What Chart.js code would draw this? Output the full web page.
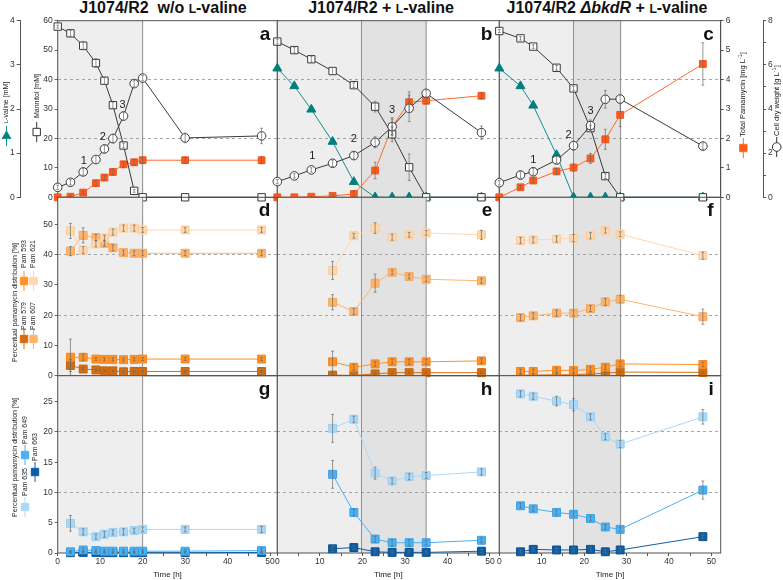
<!DOCTYPE html>
<html>
<head>
<meta charset="utf-8">
<title>Pamamycin production J1074/R2</title>
<script src="https://cdn.jsdelivr.net/npm/chart.js@4.4.1/dist/chart.umd.min.js"></script>
<style>
  body { margin: 0; background: #fff; }
  #figure { position: relative; width: 783px; height: 580px; overflow: hidden; font-family: "Liberation Sans", Arial, sans-serif; }
  #figure canvas { position: absolute; left: 0; top: 0; }
  .title { position: absolute; top: 0; font-size: 16px; line-height: 16px; font-weight: bold; color: #111; white-space: nowrap; transform: translateX(-50%); }
  .sc { font-size: 12px; }
</style>
</head>
<body>
<div id="figure">
  <div class="title" style="left:163px">J1074/R2&nbsp; w/o <span class="sc">L</span>-valine</div>
  <div class="title" style="left:381px">J1074/R2 + <span class="sc">L</span>-valine</div>
  <div class="title" style="left:607px">J1074/R2 <i>ΔbkdR</i> + <span class="sc">L</span>-valine</div>
</div>
<script>
// sampling times [h]
const timeTopA = [0, 3, 6, 9, 11, 13, 15.5, 18, 20, 30, 48];
const timeTopB = [0, 4, 8, 13, 18, 23, 27, 31, 35, 48];
const timeTopC = [0, 5, 8, 13.5, 17.5, 21.5, 25, 28.5, 48];
const timePamA = [3, 6, 9, 11, 13, 15.5, 18, 20, 30, 48];
const timePamB = [13, 18, 23, 27, 31, 35, 48];
const timePamC = [5, 8, 13.5, 17.5, 21.5, 25, 28.5, 48];

// end of the shaded culture phases [h]
const phaseEndA = [20];
const phaseEndB = [19.8, 35];
const phaseEndC = [17.5, 28.6];

// a: w/o L-valine
const mannitolA = [58.0, 55.7, 51.5, 45.6, 39.6, 31.3, 17.6, 2.2, 0, 0, 0];
const mannitolErrA = [0.5, 1.0, 1.4, 1.5, 1.2, 1.0, 0.8, 0.5, 0, 0, 0];
const cdwA = [0.45, 0.68, 1.15, 1.71, 2.19, 2.66, 3.68, 5.15, 5.40, 2.69, 2.78];
const cdwErrA = [0.1, 0.12, 0.15, 0.18, 0.18, 0.2, 0.2, 0.15, 0.12, 0.22, 0.35];
const pamTotalA = [0, 0.02, 0.16, 0.48, 0.67, 0.86, 1.12, 1.19, 1.26, 1.26, 1.26];
const pamTotalErrA = [0, 0.03, 0.05, 0.08, 0.08, 0.1, 0.1, 0.1, 0.1, 0.1, 0.12];

// b: + L-valine
const mannitolB = [52.9, 50.0, 46.9, 42.9, 38.1, 30.8, 21.4, 10.2, 0, 0];
const mannitolErrB = [0.8, 1.0, 1.0, 1.2, 0.8, 1.8, 2.5, 4.5, 0, 0];
const valineB = [2.92, 2.52, 1.99, 1.26, 0.35, 0, 0, 0, 0, 0];
const cdwB = [0.71, 0.97, 1.24, 1.54, 1.89, 2.49, 3.2, 4.03, 4.71, 2.93];
const cdwErrB = [0.1, 0.1, 0.1, 0.15, 0.15, 0.25, 0.35, 0.6, 0.15, 0.3];
const pamTotalB = [0, 0, 0.02, 0.05, 0.11, 0.91, 2.4, 3.23, 3.28, 3.45];
const pamTotalErrB = [0, 0, 0.02, 0.04, 0.1, 0.28, 0.3, 0.35, 0.1, 0.1];

// c: bkdR deletion + L-valine
const mannitolC = [56.5, 54.0, 51.2, 44.0, 37.0, 23.5, 7.2, 0, 0];
const mannitolErrC = [0.5, 0.6, 0.6, 0.8, 0.8, 1.0, 0.8, 0, 0];
const valineC = [2.92, 2.52, 2.08, 0.96, 0, 0, 0, 0, 0];
const cdwC = [0.66, 1.01, 1.16, 1.69, 2.34, 3.25, 4.44, 4.45, 2.32];
const cdwErrC = [0.1, 0.15, 0.15, 0.15, 0.2, 0.25, 0.4, 0.2, 0.15];
const pamTotalC = [0, 0.34, 0.57, 0.88, 1.01, 1.32, 1.97, 2.80, 4.53];
const pamTotalErrC = [0, 0.06, 0.08, 0.1, 0.12, 0.17, 0.34, 0.4, 0.72];

// d-f: pamamycin distribution [%], Pam 579 / 593 / 607 / 621
const pam579D = [3.4, 2.2, 1.9, 1.6, 1.6, 1.3, 1.4, 1.4, 1.4, 1.4];
const pam593D = [6.1, 6.1, 5.5, 5.4, 5.4, 5.3, 5.4, 5.5, 5.5, 5.5];
const pam607D = [41.2, 46.4, 45.7, 43.8, 42.3, 40.7, 40.5, 40.5, 40.5, 40.5];
const pam621D = [47.9, 41.5, 43.6, 45.5, 47.5, 48.8, 48.8, 48.2, 48.2, 48.2];
const pam579ErrD = [2.0, 0.4, 0.3, 0.3, 0.3, 0.3, 0.3, 0.3, 0.3, 0.3];
const pam593ErrD = [6.0, 1.0, 0.5, 0.5, 0.5, 0.5, 0.5, 0.5, 0.5, 0.5];
const pam607ErrD = [1.5, 2.5, 1.0, 1.0, 1.0, 0.8, 0.8, 0.8, 0.8, 0.8];
const pam621ErrD = [2.5, 1.2, 1.0, 1.0, 1.0, 1.0, 1.0, 0.8, 0.8, 0.8];

const pam579E = [0.2, 0.1, 0.6, 1.0, 1.0, 1.0, 1.0];
const pam593E = [4.6, 2.8, 3.9, 4.6, 4.6, 4.6, 4.9];
const pam607E = [24.3, 21.2, 30.6, 34.2, 32.8, 31.9, 31.4];
const pam621E = [34.8, 46.3, 48.8, 45.8, 46.6, 47.2, 46.6];
const pam579ErrE = [0.3, 0.3, 0.3, 0.3, 0.3, 0.3, 0.3];
const pam593ErrE = [3.5, 1.0, 0.8, 0.8, 0.8, 0.8, 0.8];
const pam607ErrE = [2.5, 1.0, 3.0, 0.8, 0.8, 0.8, 0.8];
const pam621ErrE = [3.0, 0.8, 1.8, 1.0, 0.8, 0.8, 1.5];

const pam579F = [0.2, 0.2, 0.3, 0.3, 0.6, 0.8, 1.2, 1.1];
const pam593F = [1.4, 1.4, 1.8, 1.7, 2.1, 2.8, 3.9, 3.7];
const pam607F = [19.2, 19.8, 20.7, 20.7, 22.2, 24.4, 25.3, 19.5];
const pam621F = [44.7, 44.9, 45.2, 45.5, 46.3, 48.0, 46.8, 39.7];
const pam579ErrF = [0.3, 0.3, 0.3, 0.3, 0.3, 0.3, 0.3, 0.3];
const pam593ErrF = [0.8, 0.8, 0.8, 0.8, 0.8, 0.8, 0.8, 0.8];
const pam607ErrF = [1.0, 1.0, 1.0, 1.0, 1.0, 1.2, 1.2, 2.5];
const pam621ErrF = [1.0, 1.0, 1.0, 1.2, 1.0, 0.8, 0.8, 1.2];

// g-i: pamamycin distribution [%], Pam 635 / 649 / 663
const pam635G = [4.9, 3.5, 2.7, 3.1, 3.4, 3.5, 3.7, 3.9, 3.9, 3.9];
const pam649G = [0.2, 0.5, 0.4, 0.3, 0.3, 0.3, 0.3, 0.3, 0.3, 0.4];
const pam663G = [0.05, 0.1, 0.1, 0.05, 0.05, 0.05, 0.05, 0.05, 0.05, 0.1];
const pam635ErrG = [1.3, 0.5, 0.4, 0.5, 0.4, 0.5, 0.4, 0.4, 0.4, 0.5];
const pam649ErrG = [0.2, 0.3, 0.3, 0.3, 0.3, 0.3, 0.3, 0.3, 0.3, 0.4];
const pam663ErrG = [0.2, 0.2, 0.2, 0.2, 0.2, 0.2, 0.2, 0.2, 0.2, 0.2];

const pam635H = [20.6, 22.1, 13.2, 11.9, 12.6, 12.8, 13.4];
const pam649H = [13.0, 6.7, 2.3, 1.7, 1.7, 1.7, 2.1];
const pam663H = [0.7, 0.9, 0.2, 0.1, 0.1, 0.1, 0.3];
const pam635ErrH = [2.3, 0.5, 1.0, 0.5, 0.5, 0.5, 0.5];
const pam649ErrH = [2.3, 0.5, 0.5, 0.5, 0.5, 0.4, 0.4];
const pam663ErrH = [0.5, 0.3, 0.3, 0.3, 0.3, 0.2, 0.3];

const pam635I = [26.3, 25.9, 25.1, 24.5, 22.5, 19.2, 18.0, 22.5];
const pam649I = [7.8, 7.3, 6.7, 6.4, 5.7, 4.3, 3.9, 10.4];
const pam663I = [0.2, 0.6, 0.5, 0.5, 0.6, 0.2, 0.5, 2.7];
const pam635ErrI = [0.5, 0.5, 0.8, 1.0, 0.5, 0.5, 0.6, 1.2];
const pam649ErrI = [0.4, 0.4, 0.4, 0.4, 0.4, 0.4, 0.4, 1.5];
const pam663ErrI = [0.3, 0.3, 0.3, 0.3, 0.3, 0.3, 0.3, 0.3];

// growth stage labels placed at cell dry weight points
const stageLabels = ['1', '2', '3'];
const stageIndexA = [3, 5, 6];
const stageIndexB = [2, 4, 6];
const stageIndexC = [2, 4, 5];

// ---- layout ----
const W = 783, H = 580;
const COL_LEFT = [57.7, 277.3, 499.3];
const COL_RIGHT = [277.3, 499.3, 720.7];
const ROW_TOP = [20.7, 197.3, 375.7];
const ROW_BOTTOM = [197.3, 375.7, 553];
const TIME_MAX = [51.7, 52.2, 52.2];
const FONT = '"Liberation Sans", Arial, sans-serif';

Chart.defaults.font.family = FONT;
Chart.defaults.color = '#333';

const pts = (xs, ys) => xs.map((x, i) => ({ x: x, y: ys[i] }));

function line(xs, ys, errs, axis, look) {
    return Object.assign({
        data: pts(xs, ys),
        errorBars: errs,
        yAxisID: axis,
        borderWidth: 1,
        tension: 0,
        fill: false,
        clip: false,
        pointBorderWidth: 1
    }, look);
}

const lookMannitol = { borderColor: '#3a3a3a', pointStyle: 'rect', pointRadius: 5.2, pointBackgroundColor: '#ffffff', pointBorderColor: '#3a3a3a' };
const lookCdw = { borderColor: '#3a3a3a', pointStyle: 'circle', pointRadius: 4.3, pointBackgroundColor: '#ffffff', pointBorderColor: '#3a3a3a' };
const lookValine = { borderColor: '#14908c', pointStyle: 'triangle', pointRadius: 5.2, pointBackgroundColor: '#00807c', pointBorderColor: '#00807c' };
const lookPamTotal = { borderColor: '#ff6a2b', pointStyle: 'rect', pointRadius: 4.8, pointBackgroundColor: '#ff5a1a', pointBorderColor: '#ee561e' };

const pamColors = {
    p579: ['#d36d12', '#c4630d'],
    p593: ['#ff9126', '#f5851a'],
    p607: ['#ffb46a', '#f7a75a'],
    p621: ['#ffd8ad', '#fccb98'],
    p635: ['#aad9f8', '#98cff2'],
    p649: ['#4bb1f2', '#3aa2e6'],
    p663: ['#0e5ea6', '#0b5192']
};

function lookPam(key) {
    const c = pamColors[key];
    return { borderColor: c[0], pointStyle: 'rect', pointRadius: 5.6, pointBackgroundColor: c[0], pointBorderColor: c[1] };
}

function buildScales(col, row) {
    const tickFont = { size: 8.5 };
    const bottom = row === 2;
    const prim = [
        { max: 60, step: 10, dash: [20, 40], width: 37 },
        { max: 59, step: 10, dash: [20, 40], width: 57.7 },
        { max: 29.3, step: 5, dash: [10, 20], width: 57.7 }
    ][row];

    const scales = {
        x: {
            type: 'linear', min: 0, max: TIME_MAX[col], display: bottom,
            ticks: {
                stepSize: 5, includeBounds: false, autoSkip: false, maxRotation: 0, font: tickFont, padding: 1,
                callback: v => (v % 10 === 0 ? v : '')
            },
            grid: { drawOnChartArea: false, tickLength: 3, tickColor: '#555' },
            border: { display: false },
            title: { display: true, text: 'Time [h]', font: { size: 8 }, color: '#222', padding: { top: 1, bottom: 0 } },
            afterFit: s => { if (bottom) s.height = 27; }
        },
        y: {
            type: 'linear', position: 'left', weight: 0, min: 0, max: prim.max,
            ticks: { display: col === 0, stepSize: prim.step, includeBounds: false, font: tickFont, padding: 2 },
            grid: {
                drawTicks: col === 0, tickLength: 3, tickColor: '#555', lineWidth: 0.9,
                color: c => (prim.dash.includes(c.tick.value) ? '#9b9b9b' : 'rgba(0,0,0,0)')
            },
            border: { display: false, dash: [3, 3] },
            afterFit: s => { s.width = col === 0 ? prim.width : 0; }
        }
    };

    if (row === 0) {
        scales.yVal = {
            type: 'linear', position: 'left', weight: 10, min: 0, max: 4, display: col === 0,
            ticks: { stepSize: 1, font: tickFont, padding: 2 },
            grid: { drawOnChartArea: false, tickLength: 4, tickColor: '#555' },
            border: { display: true, color: '#555', width: 1 },
            afterFit: s => { if (col === 0) s.width = 20.7; }
        };
        scales.yPam = {
            type: 'linear', position: 'right', weight: 0, min: 0, max: 6, display: col === 2,
            ticks: { stepSize: 1, font: tickFont, padding: 2 },
            grid: { drawOnChartArea: false, tickLength: 3, tickColor: '#555' },
            border: { display: true, color: '#555', width: 1 },
            afterFit: s => { if (col === 2) s.width = 42.3; }
        };
        scales.yCdw = {
            type: 'linear', position: 'right', weight: 10, min: 0, max: 8, display: col === 2,
            ticks: { stepSize: 1, font: tickFont, padding: 2, callback: v => (v % 2 === 0 ? v : '') },
            grid: { drawOnChartArea: false, tickLength: 3, tickColor: '#555' },
            border: { display: true, color: '#555', width: 1 },
            afterFit: s => { if (col === 2) s.width = 20; }
        };
    }
    return scales;
}

// ---- drawing helpers ----
function drawUp(ctx, x, y, parts) {
    ctx.save();
    ctx.translate(x, y);
    ctx.rotate(-Math.PI / 2);
    ctx.textBaseline = 'middle';
    ctx.textAlign = 'left';
    ctx.fillStyle = '#222';
    let cx = 0;
    parts.forEach(p => {
        ctx.font = (p.italic ? 'italic ' : '') + p.size + 'px ' + FONT;
        ctx.fillText(p.text, cx, p.dy || 0);
        cx += ctx.measureText(p.text).width;
    });
    ctx.restore();
}

function drawKey(ctx, x, y, shape, fill, stroke) {
    ctx.save();
    ctx.strokeStyle = stroke;
    ctx.fillStyle = fill;
    ctx.lineWidth = 1;
    ctx.beginPath();
    ctx.moveTo(x, y - 10);
    ctx.lineTo(x, y + 10);
    ctx.stroke();
    ctx.beginPath();
    if (shape === 'rect') {
        ctx.rect(x - 3.7, y - 3.7, 7.4, 7.4);
    } else if (shape === 'circle') {
        ctx.arc(x, y, 4.3, 0, Math.PI * 2);
    } else {
        ctx.moveTo(x, y - 5);
        ctx.lineTo(x + 4.4, y + 2.6);
        ctx.lineTo(x - 4.4, y + 2.6);
        ctx.closePath();
    }
    ctx.fill();
    ctx.stroke();
    ctx.restore();
}

function plainText(text, size) { return { text: text, size: size }; }

const decorations = {
    a: ctx => {
        drawUp(ctx, 6.5, 123, [{ text: 'L', size: 5.6 }, plainText('-valine [mM]', 7)]);
        drawKey(ctx, 6.5, 136, 'triangle', '#00807c', '#14908c');
        drawUp(ctx, 36.7, 118, [plainText('Mannitol [mM]', 7)]);
        drawKey(ctx, 36.7, 132, 'rect', '#ffffff', '#333333');
    },
    c: ctx => {
        drawUp(ctx, 743.3, 137, [plainText('Total Pamamycin [mg L', 7.5), { text: '-1', size: 5.5, dy: -2.5 }, plainText(']', 7.5)]);
        drawKey(ctx, 743.3, 148, 'rect', '#ff5a1a', '#ff6a2b');
        drawUp(ctx, 776.7, 136, [plainText('Cell dry weight [g L', 7.5), { text: '-1', size: 5.5, dy: -2.5 }, plainText(']', 7.5)]);
        drawKey(ctx, 776.7, 147, 'circle', '#ffffff', '#333333');
    },
    d: ctx => {
        drawUp(ctx, 15, 362, [plainText('Percentual pamamycin distribution [%]', 7)]);
        drawKey(ctx, 24, 281, 'rect', pamColors.p593[0], pamColors.p593[0]);
        drawUp(ctx, 24, 268, [plainText('Pam 593', 7)]);
        drawKey(ctx, 33.5, 281, 'rect', pamColors.p621[0], pamColors.p621[0]);
        drawUp(ctx, 33.5, 268, [plainText('Pam 621', 7)]);
        drawKey(ctx, 24, 339, 'rect', pamColors.p579[0], pamColors.p579[0]);
        drawUp(ctx, 24, 330, [plainText('Pam 579', 7)]);
        drawKey(ctx, 33.5, 339, 'rect', pamColors.p607[0], pamColors.p607[0]);
        drawUp(ctx, 33.5, 330, [plainText('Pam 607', 7)]);
    },
    g: ctx => {
        drawUp(ctx, 15, 517, [plainText('Percentual pamamycin distribution [%]', 7)]);
        drawKey(ctx, 25, 455, 'rect', pamColors.p649[0], pamColors.p649[0]);
        drawUp(ctx, 25, 444, [plainText('Pam 649', 7)]);
        drawKey(ctx, 25, 507, 'rect', pamColors.p635[0], pamColors.p635[0]);
        drawUp(ctx, 25, 496, [plainText('Pam 635', 7)]);
        drawKey(ctx, 35, 472, 'rect', pamColors.p663[0], pamColors.p663[0]);
        drawUp(ctx, 35, 461, [plainText('Pam 663', 7)]);
    }
};

function panelPlugin(info) {
    return {
        id: 'panel_' + info.letter,
        beforeDraw: function (chart) {
            const ctx = chart.ctx, a = chart.chartArea, x = chart.scales.x;
            ctx.save();
            let start = 0;
            info.phases.forEach(function (end, k) {
                const x0 = x.getPixelForValue(start), x1 = x.getPixelForValue(end);
                ctx.fillStyle = k === 0 ? '#eeeeee' : '#e2e2e2';
                ctx.fillRect(x0, a.top, x1 - x0, a.bottom - a.top);
                start = end;
            });
            ctx.restore();
        },
        beforeDatasetsDraw: function (chart) {
            const ctx = chart.ctx, a = chart.chartArea, x = chart.scales.x;
            ctx.save();
            ctx.strokeStyle = '#8f8f8f';
            ctx.lineWidth = 1;
            info.phases.forEach(function (t) {
                const px = x.getPixelForValue(t);
                ctx.beginPath();
                ctx.moveTo(px, a.top);
                ctx.lineTo(px, a.bottom);
                ctx.stroke();
            });
            ctx.strokeStyle = '#505050';
            ctx.strokeRect(a.left, a.top, a.right - a.left, a.bottom - a.top);
            ctx.restore();
        },
        afterDatasetsDraw: function (chart) {
            const ctx = chart.ctx, a = chart.chartArea;
            ctx.save();
            ctx.strokeStyle = '#6a6a6a';
            ctx.lineWidth = 0.7;
            chart.data.datasets.forEach(function (ds, i) {
                if (!ds.errorBars) return;
                const meta = chart.getDatasetMeta(i);
                const ys = chart.scales[ds.yAxisID];
                meta.data.forEach(function (pt, j) {
                    const e = ds.errorBars[j];
                    if (!e) return;
                    const v = ds.data[j].y;
                    const y1 = ys.getPixelForValue(v + e);
                    const y2 = ys.getPixelForValue(Math.max(v - e, 0));
                    ctx.beginPath();
                    ctx.moveTo(pt.x, y1);
                    ctx.lineTo(pt.x, y2);
                    ctx.moveTo(pt.x - 1.4, y1);
                    ctx.lineTo(pt.x + 1.4, y1);
                    ctx.moveTo(pt.x - 1.4, y2);
                    ctx.lineTo(pt.x + 1.4, y2);
                    ctx.stroke();
                });
            });

            if (info.stages) {
                const meta = chart.getDatasetMeta(0);
                ctx.fillStyle = '#222';
                ctx.font = '11px ' + FONT;
                ctx.textAlign = 'center';
                ctx.textBaseline = 'middle';
                info.stages.forEach(function (idx, k) {
                    const pt = meta.data[idx];
                    ctx.fillText(stageLabels[k], pt.x + info.stageOffsets[k][0], pt.y + info.stageOffsets[k][1]);
                });
            }

            ctx.fillStyle = '#111';
            ctx.font = 'bold 19px ' + FONT;
            ctx.textAlign = 'right';
            ctx.textBaseline = 'alphabetic';
            ctx.fillText(info.letter, a.right - 7, a.top + 19);
            ctx.restore();
        },
        afterDraw: function (chart) {
            if (decorations[info.letter]) {
                decorations[info.letter](chart.ctx);
            }
        }
    };
}

const panels = [
    { col: 0, row: 0, letter: 'a', phases: phaseEndA, stages: stageIndexA,
      stageOffsets: [[-12, 1], [-10, -2], [-1, -11]],
      datasets: [
          line(timeTopA, cdwA, cdwErrA, 'yCdw', lookCdw),
          line(timeTopA, mannitolA, mannitolErrA, 'y', lookMannitol),
          line(timeTopA, pamTotalA, pamTotalErrA, 'yPam', lookPamTotal)
      ] },
    { col: 1, row: 0, letter: 'b', phases: phaseEndB, stages: stageIndexB,
      stageOffsets: [[1, -14], [0, -17], [0, -17]],
      datasets: [
          line(timeTopB, cdwB, cdwErrB, 'yCdw', lookCdw),
          line(timeTopB, mannitolB, mannitolErrB, 'y', lookMannitol),
          line(timeTopB, pamTotalB, pamTotalErrB, 'yPam', lookPamTotal),
          line(timeTopB, valineB, null, 'yVal', lookValine)
      ] },
    { col: 2, row: 0, letter: 'c', phases: phaseEndC, stages: stageIndexC,
      stageOffsets: [[0, -12], [-5, -11], [0, -15]],
      datasets: [
          line(timeTopC, cdwC, cdwErrC, 'yCdw', lookCdw),
          line(timeTopC, mannitolC, mannitolErrC, 'y', lookMannitol),
          line(timeTopC, pamTotalC, pamTotalErrC, 'yPam', lookPamTotal),
          line(timeTopC, valineC, null, 'yVal', lookValine)
      ] },
    { col: 0, row: 1, letter: 'd', phases: phaseEndA,
      datasets: [
          line(timePamA, pam621D, pam621ErrD, 'y', lookPam('p621')),
          line(timePamA, pam607D, pam607ErrD, 'y', lookPam('p607')),
          line(timePamA, pam593D, pam593ErrD, 'y', lookPam('p593')),
          line(timePamA, pam579D, pam579ErrD, 'y', lookPam('p579'))
      ] },
    { col: 1, row: 1, letter: 'e', phases: phaseEndB,
      datasets: [
          line(timePamB, pam621E, pam621ErrE, 'y', lookPam('p621')),
          line(timePamB, pam607E, pam607ErrE, 'y', lookPam('p607')),
          line(timePamB, pam593E, pam593ErrE, 'y', lookPam('p593')),
          line(timePamB, pam579E, pam579ErrE, 'y', lookPam('p579'))
      ] },
    { col: 2, row: 1, letter: 'f', phases: phaseEndC,
      datasets: [
          line(timePamC, pam621F, pam621ErrF, 'y', lookPam('p621')),
          line(timePamC, pam607F, pam607ErrF, 'y', lookPam('p607')),
          line(timePamC, pam593F, pam593ErrF, 'y', lookPam('p593')),
          line(timePamC, pam579F, pam579ErrF, 'y', lookPam('p579'))
      ] },
    { col: 0, row: 2, letter: 'g', phases: phaseEndA,
      datasets: [
          line(timePamA, pam635G, pam635ErrG, 'y', lookPam('p635')),
          line(timePamA, pam649G, pam649ErrG, 'y', lookPam('p649')),
          line(timePamA, pam663G, pam663ErrG, 'y', lookPam('p663'))
      ] },
    { col: 1, row: 2, letter: 'h', phases: phaseEndB,
      datasets: [
          line(timePamB, pam635H, pam635ErrH, 'y', lookPam('p635')),
          line(timePamB, pam649H, pam649ErrH, 'y', lookPam('p649')),
          line(timePamB, pam663H, pam663ErrH, 'y', lookPam('p663'))
      ] },
    { col: 2, row: 2, letter: 'i', phases: phaseEndC,
      datasets: [
          line(timePamC, pam635I, pam635ErrI, 'y', lookPam('p635')),
          line(timePamC, pam649I, pam649ErrI, 'y', lookPam('p649')),
          line(timePamC, pam663I, pam663ErrI, 'y', lookPam('p663'))
      ] }
];

const figure = document.getElementById('figure');

panels.forEach(function (p) {
    const canvas = document.createElement('canvas');
    canvas.width = W;
    canvas.height = H;
    figure.appendChild(canvas);

    new Chart(canvas.getContext('2d'), {
        type: 'line',
        data: { datasets: p.datasets },
        options: {
            responsive: false,
            animation: false,
            devicePixelRatio: 1,
            events: [],
            parsing: true,
            layout: {
                autoPadding: false,
                padding: {
                    left: p.col === 0 ? 0 : COL_LEFT[p.col],
                    right: (p.col === 2 && p.row === 0) ? 0 : W - COL_RIGHT[p.col],
                    top: ROW_TOP[p.row],
                    bottom: p.row === 2 ? 0 : H - ROW_BOTTOM[p.row]
                }
            },
            plugins: { legend: { display: false }, tooltip: { enabled: false } },
            scales: buildScales(p.col, p.row)
        },
        plugins: [panelPlugin(p)]
    });
});
</script>
</body>
</html>
